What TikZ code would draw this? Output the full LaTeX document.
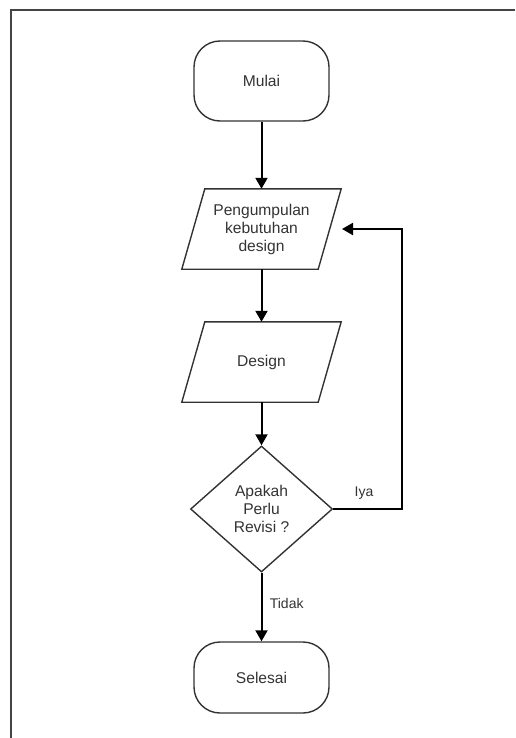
\documentclass[tikz,border=0pt]{standalone}
\usepackage{fontspec}
\setmainfont{Liberation Sans}
\usetikzlibrary{shapes.geometric,arrows.meta}
\definecolor{txt}{HTML}{333333}
\definecolor{frm}{HTML}{444444}
\begin{document}
\begin{tikzpicture}[x=1pt,y=-1pt,
  every node/.style={font=\fontsize{15.6}{18}\selectfont, text=txt, align=center},
  term/.style={draw=txt, line width=1.4pt, rounded corners=26pt, minimum width=135pt, inner sep=0pt},
  iobox/.style={minimum width=136pt, minimum height=80pt, inner sep=0pt},
  para/.style={draw=txt, line width=1.4pt},
  dec/.style={diamond, draw=txt, line width=1.4pt, minimum width=142pt, minimum height=126pt, inner sep=0pt},
  conn/.style={draw=black, line width=2pt, -{Triangle[width=12pt,length=11pt]}},
  lbl/.style={font=\fontsize{14}{16}\selectfont}]
\useasboundingbox (0,0) rectangle (515,738);
\draw[frm, line width=2pt] (11,738) -- (11,10) -- (515,10);
\node[term, minimum height=80pt] (mulai) at (261.5,81) {Mulai};
\node[iobox] (p1) at (261.5,229) {Pengumpulan\\kebutuhan\\design};
\draw[para] ([xshift=11.5pt]p1.north west) -- ([xshift=11.5pt]p1.north east) -- ([xshift=-11.5pt]p1.south east) -- ([xshift=-11.5pt]p1.south west) -- cycle;
\node[iobox] (p2) at (261.5,362) {Design};
\draw[para] ([xshift=11.5pt]p2.north west) -- ([xshift=11.5pt]p2.north east) -- ([xshift=-11.5pt]p2.south east) -- ([xshift=-11.5pt]p2.south west) -- cycle;
\node[dec] (d) at (261.5,509) {Apakah\\Perlu\\Revisi ?};
\node[term, minimum height=71pt] (selesai) at (261.5,677.5) {Selesai};
\coordinate (back) at (342,229);
\coordinate (c1) at (402,509);
\coordinate (c2) at (402,229);
\draw[conn] (mulai.south) -- (p1.north);
\draw[conn] (p1.south) -- (p2.north);
\draw[conn] (p2.south) -- (d.north);
\draw[conn] (d.south) -- node[lbl, right=4pt, pos=0.45] (tidak) {Tidak} (selesai.north);
\draw[conn] (d.east) -- (c1) -- (c2) -- (back);
\node[lbl] (iya) at (364,493) {Iya};
\end{tikzpicture}
\end{document}
